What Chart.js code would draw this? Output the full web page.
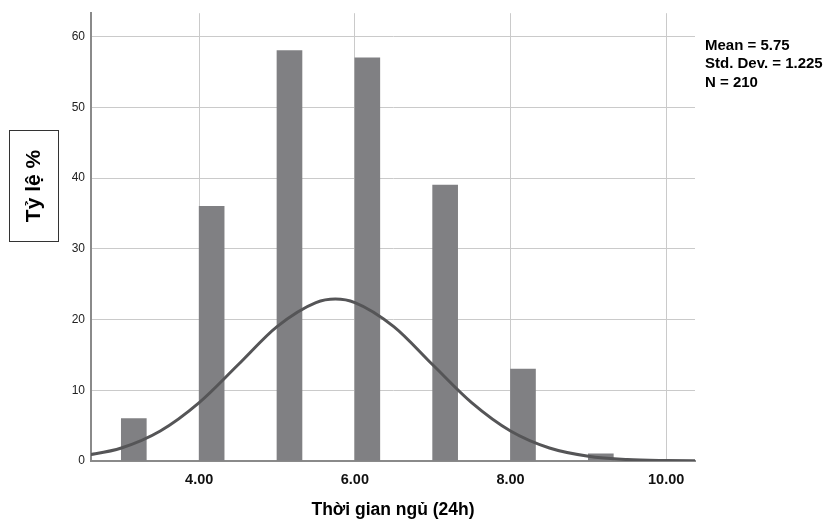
<!DOCTYPE html>
<html>
<head>
<meta charset="utf-8">
<script src="https://cdn.jsdelivr.net/npm/chart.js@4.4.1/dist/chart.umd.min.js"></script>
<style>
  html, body { margin: 0; padding: 0; background: #ffffff; }
  #wrap { width: 832px; height: 520px; position: relative; }
</style>
</head>
<body>
<div id="wrap"><canvas id="c" width="832" height="520"></canvas></div>
<script>
// ---- Data ----
const sleepHours = [3, 4, 5, 6, 7, 8, 9];
const percentValues = [6, 36, 58, 57, 39, 13, 1];
const curveX = [2.5, 3.0, 3.5, 4.0, 4.5, 5.0, 5.5, 5.75, 6.0, 6.5, 7.0, 7.5, 8.0, 8.5, 9.0, 9.5, 10.0, 10.5];
const curveY = [0.68, 1.84, 4.24, 8.25, 13.6, 19.0, 22.4, 22.9, 22.4, 19.0, 13.6, 8.25, 4.24, 1.84, 0.68, 0.21, 0.06, 0.01];
const xTickValues = [4, 6, 8, 10];
const yTickValues = [0, 10, 20, 30, 40, 50, 60];
const statLines = ['Mean = 5.75', 'Std. Dev. = 1.225', 'N = 210'];
const xTitle = 'Thời gian ngủ (24h)';
const yTitle = 'Tỷ lệ %';

const FONT = '"Liberation Sans", Arial, Helvetica, sans-serif';
const barShift = 0.16;

const annotations = {
  id: 'annotations',
  afterDraw(chart) {
    const ctx = chart.ctx;
    const area = chart.chartArea;
    ctx.save();
    // Y title box
    ctx.strokeStyle = '#333333';
    ctx.lineWidth = 1;
    ctx.strokeRect(9.5, 130.5, 49, 111);
    ctx.translate(34, 186);
    ctx.rotate(-Math.PI / 2);
    ctx.fillStyle = '#000000';
    ctx.font = 'bold 21px ' + FONT;
    ctx.textAlign = 'center';
    ctx.textBaseline = 'middle';
    ctx.fillText(yTitle, 0, 0);
    ctx.restore();

    ctx.save();
    ctx.fillStyle = '#000000';
    ctx.font = 'bold 15px ' + FONT;
    ctx.textAlign = 'left';
    ctx.textBaseline = 'alphabetic';
    statLines.forEach((s, i) => ctx.fillText(s, 705, 50 + i * 18.3));

    ctx.font = 'bold 17.5px ' + FONT;
    ctx.textAlign = 'center';
    ctx.textBaseline = 'alphabetic';
    ctx.fillText(xTitle, (area.left + area.right) / 2, 515);
    ctx.restore();
  }
};

new Chart(document.getElementById('c'), {
  data: {
    datasets: [
      {
        type: 'line',
        data: curveX.map((x, i) => ({ x: x, y: curveY[i] })),
        borderColor: '#555557',
        borderWidth: 3,
        pointRadius: 0,
        cubicInterpolationMode: 'monotone',
        fill: false,
        order: 0
      },
      {
        type: 'bar',
        data: sleepHours.map((h, i) => ({ x: h + barShift, y: percentValues[i] })),
        backgroundColor: '#808083',
        borderWidth: 0,
        barThickness: 25,
        order: 1
      }
    ]
  },
  options: {
    responsive: false,
    animation: false,
    events: [],
    layout: { padding: { left: 0, right: 137, top: 8, bottom: 0 } },
    plugins: { legend: { display: false }, tooltip: { enabled: false } },
    scales: {
      x: {
        type: 'linear',
        offset: false,
        min: 2.61,
        max: 10.37,
        afterBuildTicks: (s) => { s.ticks = xTickValues.map(v => ({ value: v })); },
        afterFit: (s) => { s.height = 59; },
        grid: { color: '#cacaca', lineWidth: 1, drawTicks: false, offset: false },
        border: { color: '#8a8a8a', width: 2 },
        ticks: {
          padding: 10,
          color: '#111111',
          font: { family: FONT, size: 14.5, weight: 'bold' },
          callback: (v) => Number(v).toFixed(2),
          maxRotation: 0
        }
      },
      y: {
        type: 'linear',
        min: 0,
        max: 63.3,
        afterBuildTicks: (s) => { s.ticks = yTickValues.map(v => ({ value: v })); },
        afterFit: (s) => { s.width = 91; },
        grid: { color: '#cacaca', lineWidth: 1, drawTicks: false },
        border: { color: '#8a8a8a', width: 2 },
        ticks: {
          padding: 6,
          color: '#222222',
          font: { family: FONT, size: 12 }
        }
      }
    }
  },
  plugins: [annotations]
});
</script>
</body>
</html>
